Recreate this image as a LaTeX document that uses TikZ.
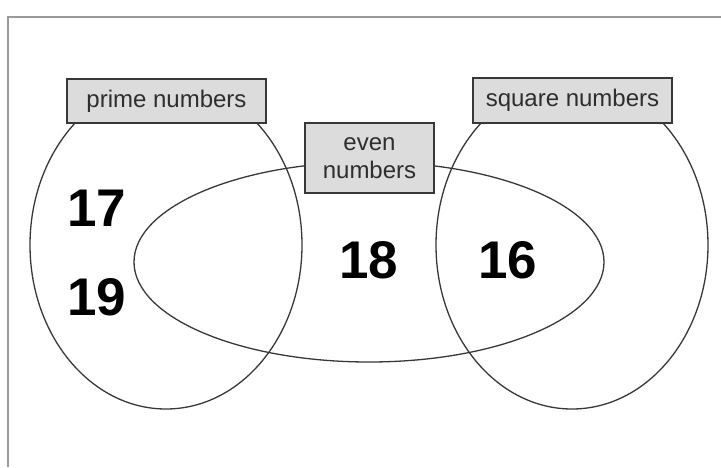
\documentclass[tikz,border=0pt]{standalone}
\usepackage{fontspec}
\setmainfont{Liberation Sans}
\usetikzlibrary{shapes.geometric}

\definecolor{framegray}{HTML}{9A9A9A}
\definecolor{setline}{HTML}{383838}
\definecolor{labelfill}{HTML}{DCDCDC}
\definecolor{labeltext}{HTML}{2E2E2E}

\tikzset{
  setcurve/.style={ellipse, draw=setline, line width=1.3pt, inner sep=0pt},
  setlabel/.style={draw=setline, fill=labelfill, line width=1.5pt, inner sep=0pt,
    text=labeltext, font=\fontsize{24}{28.5}\selectfont, align=center},
  member/.style={font=\fontsize{53}{60}\selectfont\bfseries, text=black, inner sep=0pt}
}

\begin{document}
\begin{tikzpicture}[x=1pt, y=-1pt]
  \useasboundingbox (0,0) rectangle (721,467);

  % outer frame (only top and left edges fall inside the page)
  \coordinate (frameTL) at (8,17);
  \coordinate (frameTR) at (721,17);
  \coordinate (frameBL) at (8,467);
  \draw[framegray, line width=2pt] (frameTR) -- (frameTL) -- (frameBL);

  % the three sets
  \node[setcurve, minimum width=272pt, minimum height=328pt] (prime) at (166,245) {};
  \node[setcurve, minimum width=272pt, minimum height=328pt] (square) at (572,245) {};
  \node[setcurve, minimum width=470pt, minimum height=200pt] (even) at (369,262) {};

  % set labels
  \node[setlabel, minimum width=199pt, minimum height=44pt] (primelabel) at (166.5,101) {prime numbers};
  \node[setlabel, minimum width=199pt, minimum height=45pt] (squarelabel) at (572.5,100.5) {square numbers};
  \node[setlabel, minimum width=129pt, minimum height=70pt] (evenlabel) at (369.5,158) {even\\numbers};

  % members
  \node[member] (n17) at (97,208) {17};
  \node[member] (n19) at (97,297) {19};
  \node[member] (n18) at (369,260) {18};
  \node[member] (n16) at (508,260) {16};
\end{tikzpicture}
\end{document}
